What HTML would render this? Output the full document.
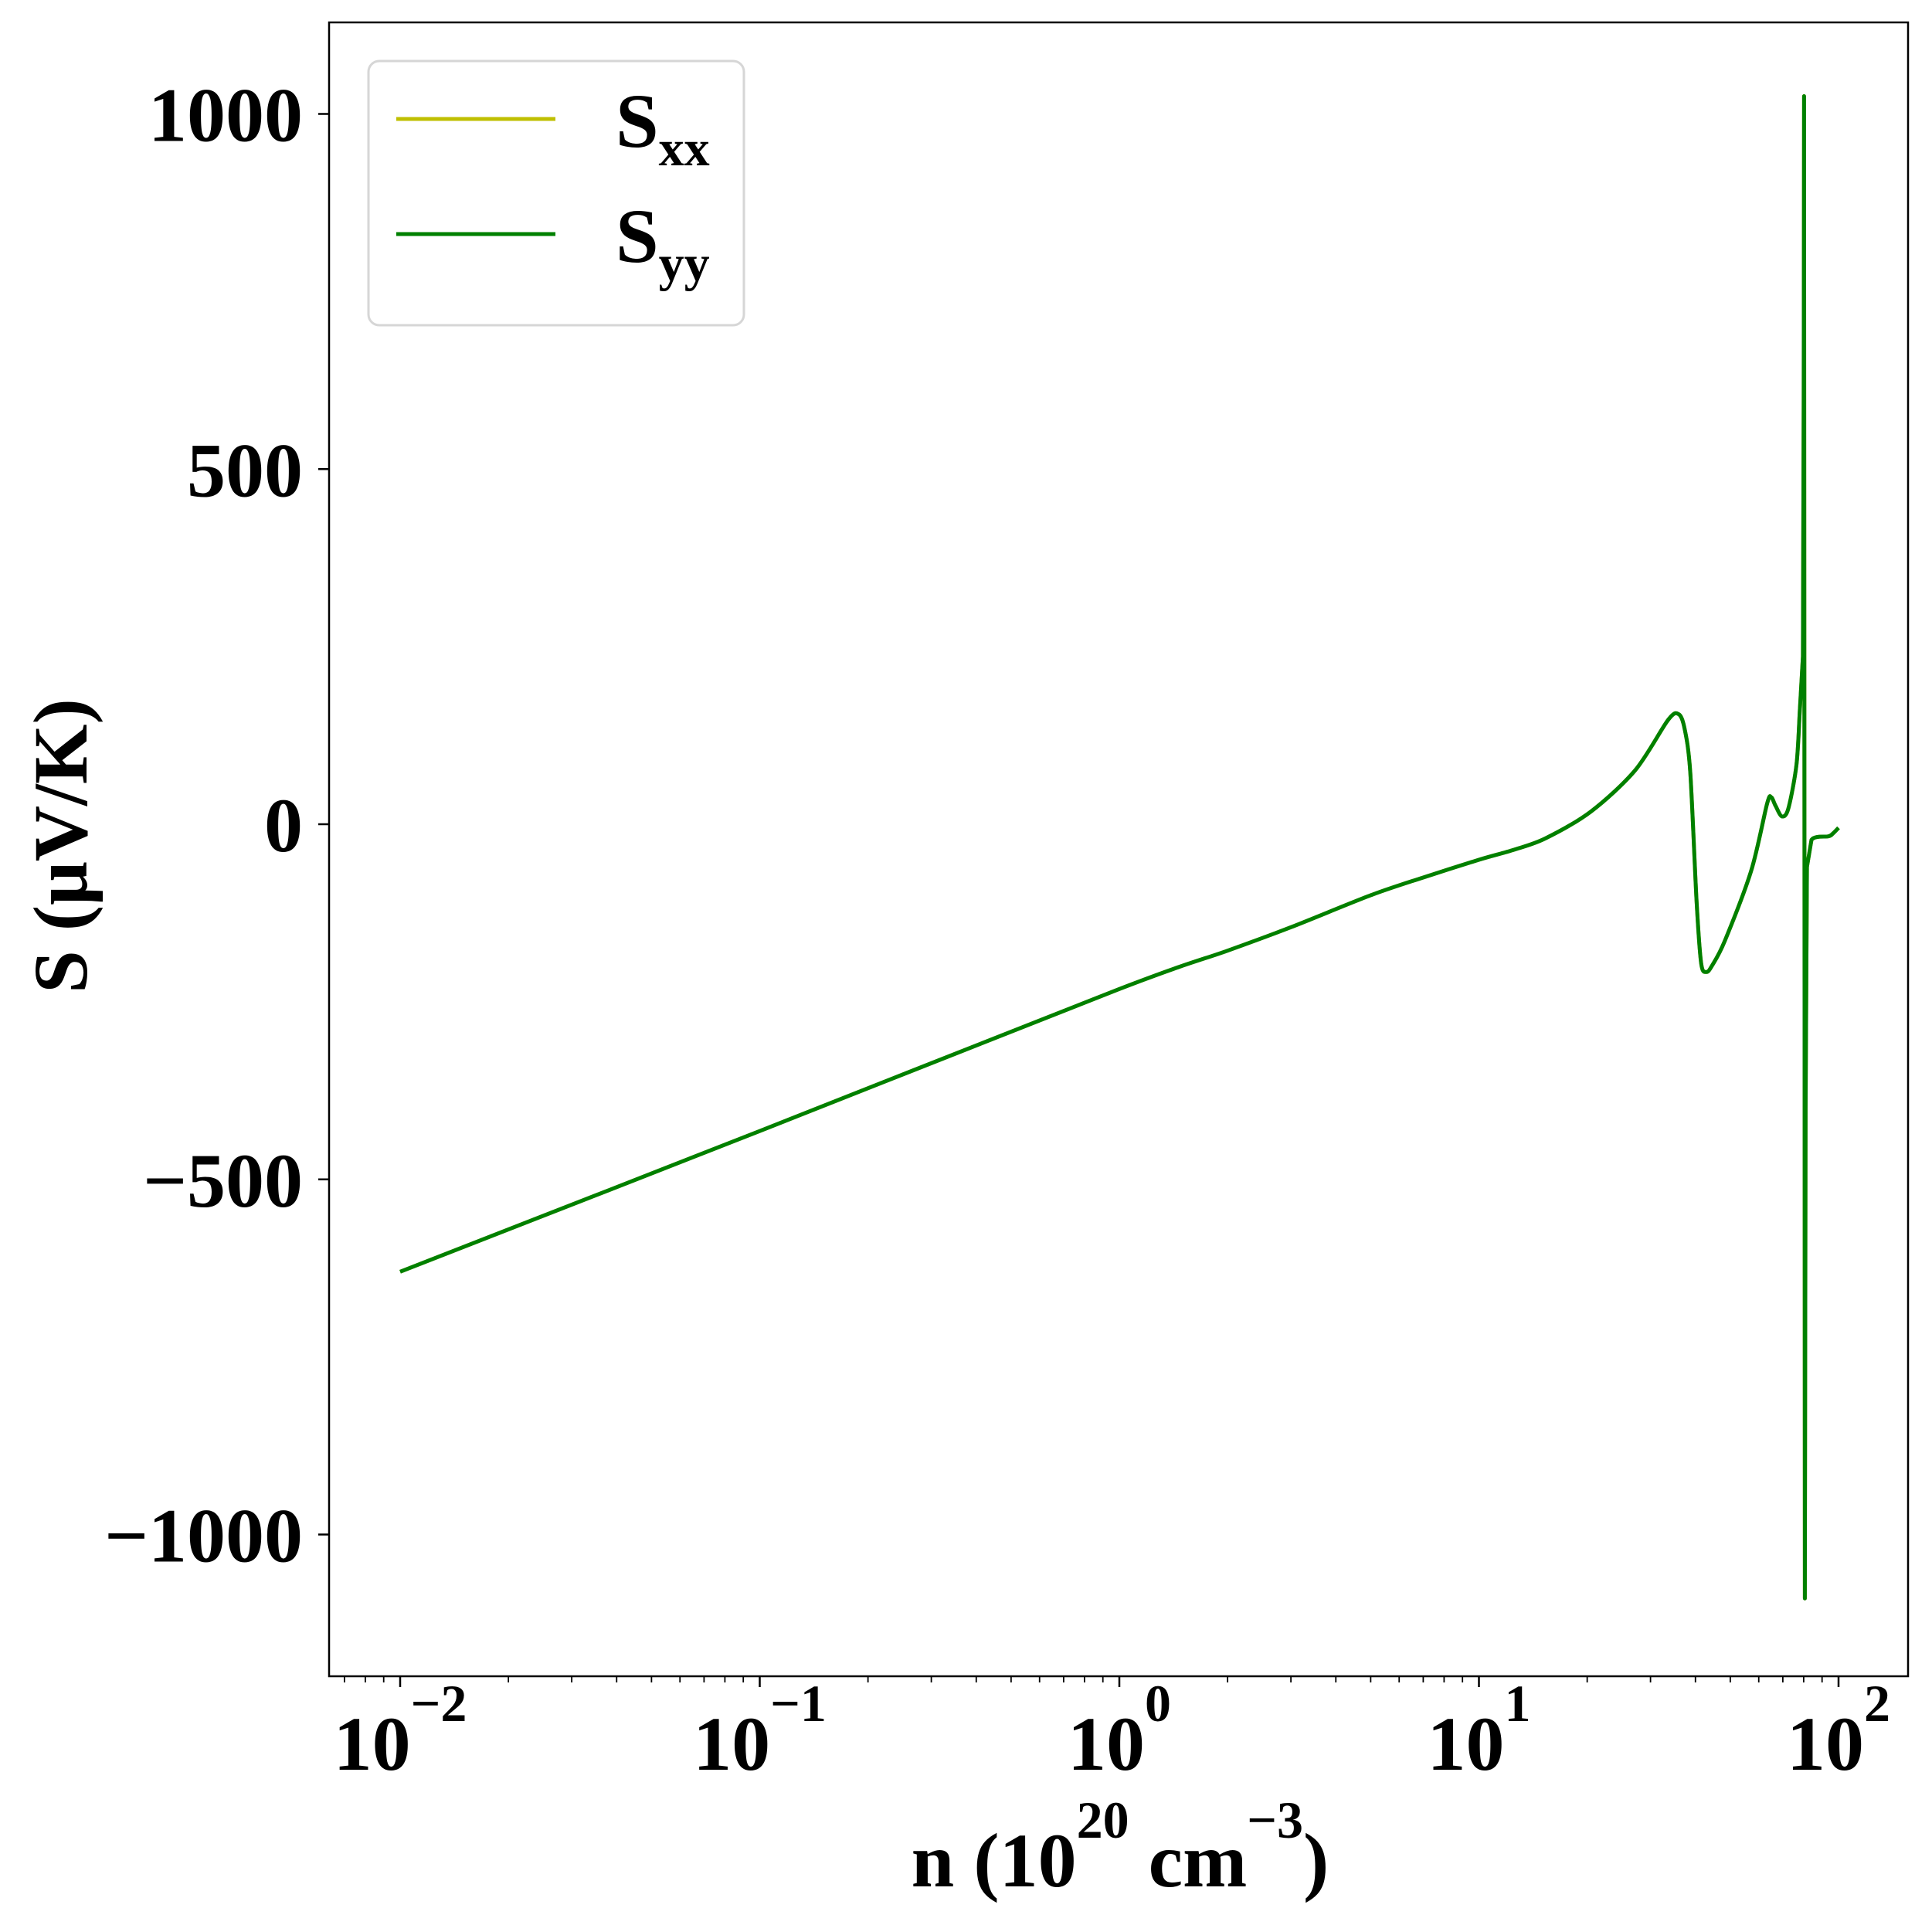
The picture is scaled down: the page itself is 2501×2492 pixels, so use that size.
<!DOCTYPE html>
<html><head><meta charset="utf-8"><style>
html,body{margin:0;padding:0;background:#fff;}
svg{display:block;}
text{font-family:"Liberation Serif","Times New Roman",serif;font-weight:bold;fill:#000;}
</style></head><body>
<svg id="chart" width="2501" height="2492" viewBox="0 0 2501 2492" xmlns="http://www.w3.org/2000/svg">
<rect x="0" y="0" width="2501" height="2492" fill="#fff"/>
<g id="plot"></g>
<g id="axes"></g>
<text x="1450" y="2442" font-size="100" text-anchor="middle">n (10<tspan dy="-63" font-size="68">20</tspan><tspan dy="63"> cm</tspan><tspan dy="-63" font-size="68">−3</tspan><tspan dy="63">)</tspan></text>
<text transform="translate(112,1095) rotate(-90)" font-size="100" text-anchor="middle">S (μV/K)</text>
<g>
<rect x="477" y="79" width="486" height="342" rx="14" fill="#fff" stroke="#d6d6d6" stroke-width="3"/>
<line x1="513" y1="154" x2="719" y2="154" stroke="#bfbf00" stroke-width="5"/>
<text x="797" y="190" font-size="100">S<tspan dy="24" font-size="66">xx</tspan></text>
<line x1="513" y1="303" x2="719" y2="303" stroke="#008000" stroke-width="5"/>
<text x="797" y="339" font-size="100">S<tspan dy="24" font-size="66">yy</tspan></text>
</g>
</svg>
<script>
const nValues = [0.01, 0.1, 1, 2, 3, 5, 7, 10, 12.5, 15.3, 20.5, 27.2, 33.6, 35.9, 37.3, 38.7, 40.3, 41.5, 42.9, 44.5, 48.3, 57.2, 63.3, 65.0, 66.8, 69.6, 72.5, 76.4, 78.1, 79.6, 80.0, 80.2, 80.6, 81.0, 81.7, 84.1, 93.8, 96.5, 100];
const sxxValues = [-630, -432, -232, -178, -145, -100, -75, -50, -36, -20, 18, 76, 147, 155, 135, 73, -109, -196, -208, -199, -164, -65, 29, 38, 26, 11, 22, 84, 163, 236, 600, 1025, -1090, -400, -60, -22, -17, -13, -5];
const syyValues = [-630, -432, -232, -178, -145, -100, -75, -50, -36, -20, 18, 76, 147, 155, 135, 73, -109, -196, -208, -199, -164, -65, 29, 38, 26, 11, 22, 84, 163, 236, 600, 1025, -1090, -400, -60, -22, -17, -13, -5];
const yTicks = [-1000, -500, 0, 500, 1000];
const yTickLabels = ["−1000", "−500", "0", "500", "1000"];
const xDecades = [-2, -1, 0, 1, 2];

const L = 426, R = 2470, T = 29, B = 2170;
const NS = "http://www.w3.org/2000/svg";
function xs(n) { return 518 + (Math.log10(n) + 2) * 465.5; }
function ys(v) { return 1067 - v * 0.9195; }
function mk(tag, attrs, parent) {
  const e = document.createElementNS(NS, tag);
  for (const k in attrs) e.setAttribute(k, attrs[k]);
  parent.appendChild(e);
  return e;
}
const plot = document.getElementById('plot');
const axes = document.getElementById('axes');

function series(vals, color, name) {
  const pts = nValues.map((n, i) => [xs(n), ys(vals[i])]);
  const steep = (a, b) => Math.abs(b[1] - a[1]) > 25 * Math.abs(b[0] - a[0]) + 1;
  let d = 'M' + pts[0][0].toFixed(2) + ',' + pts[0][1].toFixed(2);
  for (let i = 0; i < pts.length - 1; i++) {
    const p0 = pts[Math.max(0, i - 1)], p1 = pts[i], p2 = pts[i + 1], p3 = pts[Math.min(pts.length - 1, i + 2)];
    if (steep(p1, p2) || steep(p0, p1) || steep(p2, p3)) {
      d += 'L' + p2[0].toFixed(2) + ',' + p2[1].toFixed(2);
      continue;
    }
    const t = 0.15;
    const c1x = p1[0] + (p2[0] - p0[0]) * t, c1y = p1[1] + (p2[1] - p0[1]) * t;
    const c2x = p2[0] - (p3[0] - p1[0]) * t, c2y = p2[1] - (p3[1] - p1[1]) * t;
    d += 'C' + c1x.toFixed(2) + ',' + c1y.toFixed(2) + ' ' + c2x.toFixed(2) + ',' + c2y.toFixed(2) + ' ' + p2[0].toFixed(2) + ',' + p2[1].toFixed(2);
  }
  const p = mk('path', {d: d, fill: 'none', stroke: color, 'stroke-width': 5, 'stroke-linejoin': 'round', 'stroke-linecap': 'butt'}, plot);
  
  
}
series(sxxValues, '#bfbf00', 'sxx-line');
series(syyValues, '#008000', 'syy-line');

const frame = mk('rect', {x: L, y: T, width: R - L, height: B - T, fill: 'none', stroke: '#000', 'stroke-width': 2.5}, axes);



yTicks.forEach((v, i) => {
  const y = ys(v);
  const t = mk('line', {x1: L - 14, x2: L, y1: y, y2: y, stroke: '#000', 'stroke-width': 2.5}, axes);
  
  
  const lb = mk('text', {x: L - 34, y: y + 35, 'font-size': 100, 'text-anchor': 'end'}, axes);
  lb.textContent = yTickLabels[i];
  
  
});

for (let d = -3; d <= 2; d++) {
  for (let m = 1; m < 10; m++) {
    const n = m * Math.pow(10, d);
    const x = xs(n);
    if (x < L || x > R) continue;
    const major = m === 1;
    const t = mk('line', {x1: x, x2: x, y1: B, y2: B + (major ? 14 : 8), stroke: '#000', 'stroke-width': major ? 2.5 : 1.8}, axes);
    
    
  }
}
xDecades.forEach(d => {
  const x = xs(Math.pow(10, d));
  const lb = mk('text', {x: x, y: 2291, 'font-size': 100, 'text-anchor': 'middle'}, axes);
  
  
  const base = document.createElementNS(NS, 'tspan');
  base.textContent = '10';
  lb.appendChild(base);
  const sup = document.createElementNS(NS, 'tspan');
  sup.setAttribute('dy', '-63');
  sup.setAttribute('font-size', '68');
  sup.textContent = d < 0 ? '−' + (-d) : String(d);
  lb.appendChild(sup);
});
</script>
</body></html>
